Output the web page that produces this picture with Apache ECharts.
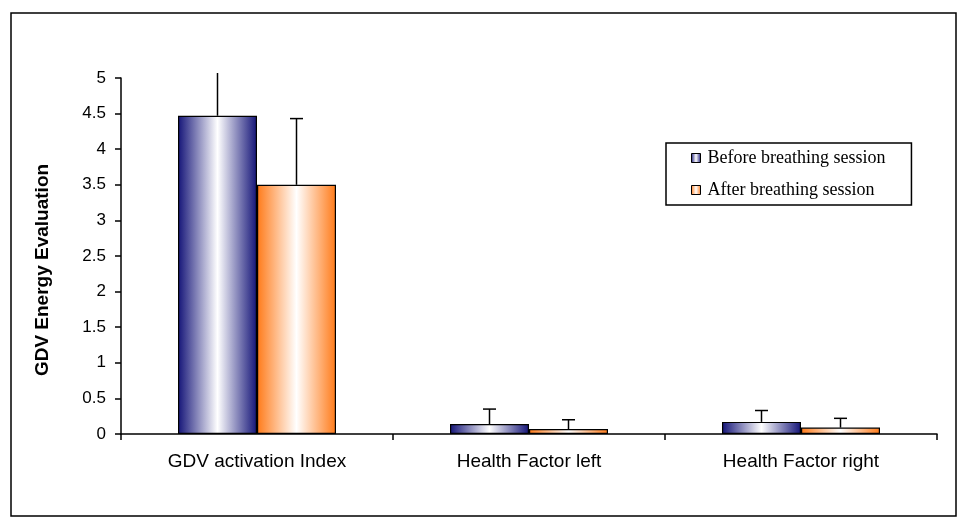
<!DOCTYPE html>
<html>
<head>
<meta charset="utf-8">
<script src="https://cdn.jsdelivr.net/npm/echarts@6/dist/echarts.min.js"></script>
<style>
html,body{margin:0;padding:0;background:#fff;}
#chart{width:969px;height:527px;}
</style>
</head>
<body>
<div id="chart"></div>
<script>
var categories = ['GDV activation Index', 'Health Factor left', 'Health Factor right'];
var seriesNames = ['Before breathing session', 'After breathing session'];
var beforeValues = [4.47, 0.14, 0.17];
var afterValues = [3.5, 0.07, 0.09];
var beforeErrors = [0.6, 0.21, 0.16];
var afterErrors = [0.93, 0.13, 0.13];
var yTicks = [0, 0.5, 1, 1.5, 2, 2.5, 3, 3.5, 4, 4.5, 5];

var Y_MAX = 5;
var BAR_W = 79;

function grad(edge) {
  return {
    type: 'linear', x: 0, y: 0, x2: 1, y2: 0,
    colorStops: [
      {offset: 0, color: edge},
      {offset: 0.5, color: '#ffffff'},
      {offset: 1, color: edge}
    ]
  };
}
var blueGrad = grad('#141478');
var orangeGrad = grad('#ff7a18');

function errorSeries(values, errors, offset) {
  var data = values.map(function (v, i) { return [i, v, v + errors[i]]; });
  return {
    type: 'custom',
    silent: true,
    z: 5,
    data: data,
    renderItem: function (params, api) {
      var i = api.value(0);
      var base = api.coord([i, api.value(1)]);
      var topVal = Math.min(api.value(2), Y_MAX + 0.07);
      var top = api.coord([i, topVal]);
      var x = base[0] + offset;
      var children = [{
        type: 'line',
        shape: {x1: x, y1: base[1], x2: x, y2: top[1]},
        style: {stroke: '#000', lineWidth: 1.5}
      }];
      if (api.value(2) <= Y_MAX) {
        children.push({
          type: 'line',
          shape: {x1: x - 6.5, y1: top[1], x2: x + 6.5, y2: top[1]},
          style: {stroke: '#000', lineWidth: 1.5}
        });
      }
      return {type: 'group', children: children};
    }
  };
}

var chart = echarts.init(document.getElementById('chart'));
chart.setOption({
  animation: false,
  backgroundColor: '#ffffff',
  grid: {left: 121, right: 32, top: 78, bottom: 93, containLabel: false},
  graphic: [
    {
      type: 'rect',
      shape: {x: 11, y: 13, width: 945, height: 503},
      style: {fill: 'none', stroke: '#000', lineWidth: 1.5},
      z: -1
    },
    {
      type: 'text',
      x: 43, y: 270,
      rotation: Math.PI / 2,
      style: {
        text: 'GDV Energy Evaluation',
        font: 'bold 19px "Liberation Sans", Arial, sans-serif',
        fill: '#000',
        align: 'center',
        verticalAlign: 'middle'
      }
    }
  ],
  legend: {
    orient: 'vertical',
    left: 666,
    top: 143,
    padding: [6, 26, 6, 25],
    itemGap: 14,
    itemWidth: 9,
    itemHeight: 9,
    icon: 'rect',
    borderColor: '#000',
    borderWidth: 1.5,
    data: seriesNames,
    itemStyle: {borderColor: '#000', borderWidth: 1},
    textStyle: {
      fontFamily: '"Liberation Serif", "Times New Roman", serif',
      fontSize: 18,
      color: '#000',
      padding: [0, 0, 0, 2]
    }
  },
  xAxis: {
    type: 'category',
    data: categories,
    axisLine: {lineStyle: {color: '#000', width: 1.5}},
    axisTick: {show: true, length: 6, lineStyle: {color: '#000', width: 1.5}},
    axisLabel: {
      color: '#000',
      fontFamily: '"Liberation Sans", Arial, sans-serif',
      fontSize: 19,
      margin: 18
    },
    splitLine: {show: false}
  },
  yAxis: {
    type: 'value',
    min: 0,
    max: Y_MAX,
    interval: 0.5,
    axisLine: {show: true, lineStyle: {color: '#000', width: 1.5}},
    axisTick: {show: true, length: 6, lineStyle: {color: '#000', width: 1.5}},
    axisLabel: {
      color: '#000',
      fontFamily: '"Liberation Sans", Arial, sans-serif',
      fontSize: 17,
      margin: 15,
      formatter: function (v) {
        for (var k = 0; k < yTicks.length; k++) {
          if (Math.abs(yTicks[k] - v) < 1e-9) return String(yTicks[k]);
        }
        return '';
      }
    },
    splitLine: {show: false}
  },
  series: [
    {
      name: seriesNames[0],
      type: 'bar',
      data: beforeValues,
      barWidth: BAR_W,
      barGap: 0,
      itemStyle: {color: blueGrad, borderColor: '#000', borderWidth: 1.2}
    },
    {
      name: seriesNames[1],
      type: 'bar',
      data: afterValues,
      barWidth: BAR_W,
      barGap: 0,
      itemStyle: {color: orangeGrad, borderColor: '#000', borderWidth: 1.2}
    },
    errorSeries(beforeValues, beforeErrors, -BAR_W / 2),
    errorSeries(afterValues, afterErrors, BAR_W / 2)
  ]
});
</script>
</body>
</html>
